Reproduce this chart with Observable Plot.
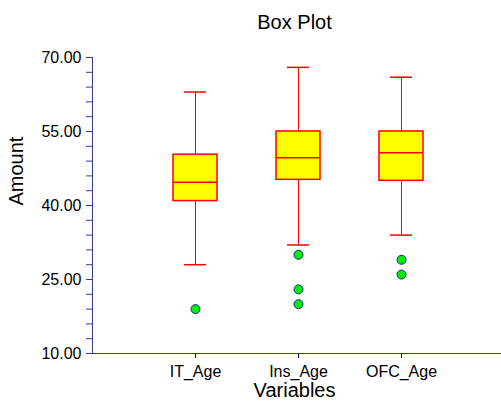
<!DOCTYPE html>
<html>
<head>
<meta charset="utf-8">
<script src="https://cdn.jsdelivr.net/npm/d3@7"></script>
<script src="https://cdn.jsdelivr.net/npm/@observablehq/plot@0.6"></script>
<style>
  html, body { margin: 0; padding: 0; background: #fff; }
  #chart svg { display: block; }
</style>
</head>
<body>
<div id="chart"></div>
<script>
const variables = ["IT_Age", "Ins_Age", "OFC_Age"];
const lowerWhisker = [28, 32, 34];
const q1 = [40.9, 45.2, 45];
const median = [44.7, 49.7, 50.7];
const q3 = [50.3, 55, 55];
const upperWhisker = [63, 68, 66];
const outlierVar = ["IT_Age", "Ins_Age", "Ins_Age", "Ins_Age", "OFC_Age", "OFC_Age"];
const outlierVal = [19, 30, 23, 20, 29, 26];
const yMajorTicks = [10, 25, 40, 55, 70];
const yMinorTicks = [10, 13, 16, 19, 22, 25, 28, 31, 34, 37, 40, 43, 46, 49, 52, 55, 58, 61, 64, 67, 70];
const titleText = "Box Plot";
const yLabel = "Amount";
const xLabel = "Variables";

const boxes = variables.map((v, i) => ({
  v, lo: lowerWhisker[i], q1: q1[i], med: median[i], q3: q3[i], hi: upperWhisker[i]
}));
const outliers = outlierVar.map((v, i) => ({v, y: outlierVal[i]}));

const navy = "#3a3a9c";
const font = "Liberation Sans, Arial, sans-serif";

const chart = Plot.plot({
  width: 501,
  height: 404,
  marginTop: 57,
  marginBottom: 51,
  marginLeft: 92,
  marginRight: -3,
  style: {fontFamily: font, background: "#fff", color: "#000"},
  x: {type: "band", domain: variables, paddingInner: 0.573, paddingOuter: 0.786, axis: null},
  y: {domain: [10, 70], axis: null},
  marks: [
    Plot.ruleX(boxes, {x: "v", y1: "lo", y2: "q1", stroke: "#ff0000", strokeWidth: 1}),
    Plot.ruleX(boxes, {x: "v", y1: "q3", y2: "hi", stroke: "#ff0000", strokeWidth: 1}),
    Plot.tickY(boxes, {x: "v", y: "lo", stroke: "#ff0000", strokeWidth: 1.5, insetLeft: 11, insetRight: 11}),
    Plot.tickY(boxes, {x: "v", y: "hi", stroke: "#ff0000", strokeWidth: 1.5, insetLeft: 11, insetRight: 11}),
    Plot.barY(boxes, {x: "v", y1: "q1", y2: "q3", fill: "#ffff00", stroke: "#ff0000", strokeWidth: 1.5}),
    Plot.tickY(boxes, {x: "v", y: "med", stroke: "#ff0000", strokeWidth: 1.5}),
    Plot.dot(outliers, {x: "v", y: "y", r: 4.5, fill: "#00ee00", stroke: "#1a2a90", strokeWidth: 1}),
    Plot.frame({anchor: "left", stroke: navy}),
    Plot.ruleY([10], {stroke: navy}),
    Plot.axisY({ticks: yMinorTicks, tickSize: 6, text: null, stroke: navy}),
    Plot.axisY({ticks: yMajorTicks, tickSize: 6, tickPadding: 5, stroke: navy, fill: "#000",
      tickFormat: d => d.toFixed(2), fontSize: 16}),
    Plot.axisX({tickSize: 5, tickPadding: 7, stroke: "#00008b", fill: "#000", fontSize: 16, label: null}),
    Plot.text([titleText], {text: d => d, frameAnchor: "top", lineAnchor: "middle", dy: -34.5, dx: -4, fontSize: 20, fill: "#000"}),
    Plot.text([yLabel], {text: d => d, frameAnchor: "left", lineAnchor: "middle", dx: -76, rotate: -90, fontSize: 20, fill: "#000"}),
    Plot.text([xLabel], {text: d => d, frameAnchor: "bottom", lineAnchor: "middle", dy: 37.5, dx: -4, fontSize: 20, fill: "#000"})
  ]
});
document.getElementById("chart").appendChild(chart);
</script>
</body>
</html>
